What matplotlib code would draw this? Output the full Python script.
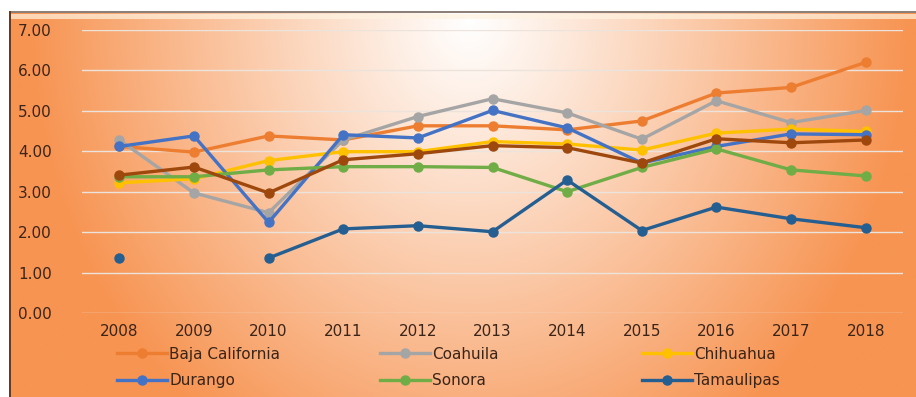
import numpy as np
import matplotlib.pyplot as plt
from matplotlib.lines import Line2D
from matplotlib.patches import Rectangle

# Datos
years = ["2008", "2009", "2010", "2011", "2012", "2013", "2014", "2015", "2016", "2017", "2018"]

baja_california = [4.12, 3.98, 4.38, 4.28, 4.63, 4.63, 4.53, 4.75, 5.44, 5.58, 6.20]
coahuila = [4.28, 2.97, 2.48, 4.28, 4.86, 5.30, 4.95, 4.30, 5.25, 4.71, 5.01]
chihuahua = [3.22, 3.32, 3.77, 3.99, 3.99, 4.24, 4.18, 4.03, 4.45, 4.55, 4.49]
durango = [4.12, 4.38, 2.24, 4.41, 4.33, 5.01, 4.58, 3.71, 4.12, 4.43, 4.41]
sonora = [3.37, 3.37, 3.54, 3.62, 3.62, 3.60, 3.00, 3.60, 4.06, 3.54, 3.39]
tamaulipas = [1.36, np.nan, 1.36, 2.08, 2.16, 2.01, 3.29, 2.04, 2.62, 2.33, 2.11]
serie_sin_nombre = [3.41, 3.61, 2.97, 3.79, 3.94, 4.14, 4.09, 3.71, 4.31, 4.21, 4.28]

series = [
    ("Baja California", baja_california, "#ED7D31"),
    ("Coahuila", coahuila, "#A5A5A5"),
    ("Chihuahua", chihuahua, "#FFC000"),
    ("Durango", durango, "#4472C4"),
    ("Sonora", sonora, "#70AD47"),
    ("Tamaulipas", tamaulipas, "#255E91"),
]

W, H = 916, 397
fig = plt.figure(figsize=(W / 100, H / 100), dpi=100)
fig.patch.set_facecolor("white")

# Fondo con degradado naranja
bg = fig.add_axes([10 / W, 0, (W - 10) / W, (H - 11) / H], zorder=0)
gx, gy = np.meshgrid(np.linspace(10, W, 400), np.linspace(11, H, 200))
d = np.sqrt(((gx - 470) / 440) ** 2 + ((gy - 20) / 500) ** 2)
t = np.clip(d, 0, 1) ** 1.05
orange = np.array([247, 148, 82]) / 255
img = (1 - t)[..., None] * np.ones(3) + t[..., None] * orange
bg.imshow(img, aspect="auto", extent=[0, 1, 0, 1], origin="upper")
bg.axis("off")
# borde superior e izquierdo
fig.add_artist(Rectangle((10 / W, (H - 13) / H), (W - 10) / W, 2 / H,
                         transform=fig.transFigure, color="#8c8078", lw=0))
fig.add_artist(Rectangle((10 / W, (H - 19) / H), (W - 10) / W, 5 / H,
                         transform=fig.transFigure, color="#fff3e0", alpha=0.7, lw=0))
fig.add_artist(Rectangle((9 / W, 0), 2 / W, (H - 11) / H,
                         transform=fig.transFigure, color="#6b3a1e", lw=0))

ax = fig.add_axes([82 / W, 1 - 313 / H, (903 - 82) / W, (313 - 30) / H], zorder=1)
ax.patch.set_alpha(0)
x = np.arange(len(years))

for name, vals, color in series:
    ax.plot(x, vals, color=color, lw=2.4, marker="o", markersize=6.5, label=name, zorder=3)
ax.plot(x, serie_sin_nombre, color="#9E480E", lw=2.4, marker="o", markersize=6.5, zorder=3)

ax.set_xlim(-0.5, len(years) - 0.5)
ax.set_ylim(0, 7)
ax.set_yticks(np.arange(0, 8, 1))
ax.set_yticklabels([f"{v:.2f}" for v in np.arange(0, 8, 1)])
ax.set_xticks(x)
ax.set_xticklabels(years)
ax.tick_params(axis="both", length=0, colors="#3b2418", labelsize=11)
ax.tick_params(axis="x", pad=8)
ax.tick_params(axis="y", pad=46)
for lab in ax.get_yticklabels():
    lab.set_horizontalalignment("left")
ax.yaxis.grid(True, color="#ece4dc", lw=1, zorder=1)
for s in ax.spines.values():
    s.set_visible(False)

# Leyenda en tres columnas
handles = {name: Line2D([], [], color=color, lw=2.4, marker="o", markersize=6.5)
           for name, vals, color in series}
cols = [["Baja California", "Durango"], ["Coahuila", "Sonora"], ["Chihuahua", "Tamaulipas"]]
col_x = [103, 366, 628]
for names, cx in zip(cols, col_x):
    leg = fig.legend([handles[n] for n in names], names, loc="upper left",
                     bbox_to_anchor=(cx / W, 1 - 333 / H), frameon=False,
                     handlelength=3.3, handletextpad=0.15, labelspacing=0.75,
                     prop={"size": 11})
    for txt in leg.get_texts():
        txt.set_color("#3b2418")

fig.savefig("out.png", dpi=100)
